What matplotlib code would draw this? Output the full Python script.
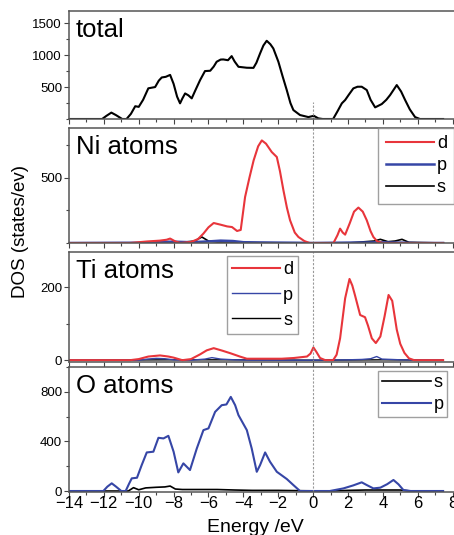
"""
Stacked density-of-states panels: total, Ni, Ti and O projected DOS.
"""

import matplotlib
matplotlib.use("Agg")
import matplotlib.pyplot as plt
from matplotlib.ticker import MultipleLocator

plt.rcParams["font.family"] = ["Liberation Sans", "DejaVu Sans"]

# ---------------------------------------------------------------------------
# DATA
# ---------------------------------------------------------------------------
E_total = [-14, -12.1, -11.85, -11.57, -11.3, -10.95, -10.7, -10.45, -10.2, -10.0,
           -9.75, -9.45, -9.06, -8.85, -8.68, -8.45, -8.2, -8.0, -7.8, -7.63,
           -7.5, -7.34, -7.15, -6.96, -6.75, -6.48, -6.2, -5.9, -5.7, -5.53,
           -5.3, -5.15, -4.88, -4.67, -4.5, -4.28, -3.8, -3.42, -3.25, -3.04,
           -2.85, -2.66, -2.45, -2.28, -1.99, -1.75, -1.51, -1.3, -1.13, -0.75,
           -0.27, 0.04, 0.3, 0.55, 1.15, 1.4, 1.65, 1.84, 2.05, 2.31,
           2.55, 2.79, 3.08, 3.3, 3.56, 3.94, 4.2, 4.42, 4.8, 5.05,
           5.28, 5.55, 5.85, 6.13, 7.46]
dos_total = [0, 0, 50, 100, 60, 0, 0, 80, 200, 190,
             300, 480, 500, 600, 650, 660, 690, 550, 350, 245,
             320, 400, 370, 323, 450, 609, 750, 755, 820, 896,
             930, 932, 920, 984, 900, 817, 802, 800, 880, 1026,
             1150, 1224, 1170, 1104, 896, 670, 453, 250, 140, 62,
             30, 50, 10, 0, 0, 120, 245, 297, 380, 479,
             505, 505, 453, 300, 182, 234, 300, 375, 531, 430,
             297, 150, 30, 0, 0]

E_ni_d = [-14, -10.5, -9.5, -8.8, -8.4, -8.2, -7.9, -7.6, -7.0, -6.6,
          -6.29, -6.0, -5.7, -5.3, -4.93, -4.65, -4.36, -4.15, -3.9, -3.65,
          -3.41, -3.15, -2.94, -2.7, -2.37, -2.08, -1.9, -1.7, -1.5, -1.32,
          -1.05, -0.84, -0.5, -0.2, 1.17, 1.4, 1.55, 1.7, 1.84, 2.1,
          2.35, 2.6, 2.85, 3.08, 3.3, 3.46, 3.7, 4.0, 7.46]
ni_d = [0, 0, 12, 18, 25, 34, 12, 0, 8, 30,
        72, 120, 153, 140, 127, 122, 92, 100, 352, 500,
        632, 740, 785, 760, 696, 658, 550, 403, 270, 174,
        80, 46, 15, 0, 0, 60, 110, 80, 64, 150,
        240, 271, 240, 174, 90, 46, 10, 0, 0]
E_ni_p = [-14, -10, -9, -8, -7, -6, -5.3, -4.6, -4, -3, -1, 0, 2, 4, 5, 6, 7.46]
ni_p = [0, 2, 8, 10, 6, 12, 18, 15, 6, 4, 2, 0, 3, 5, 3, 0, 0]
E_ni_s = [-14, -10, -8.5, -7.5, -6.8, -6.38, -6.0, -5.5, -4.5, -3.5,
          -1, 2.0, 3.0, 3.5, 3.86, 4.3, 4.7, 5.1, 5.5, 7.46]
ni_s = [0, 0, 5, 5, 15, 46, 15, 8, 8, 3,
        0, 0, 10, 15, 28, 10, 15, 28, 5, 0]

E_ti_d = [-14, -10.5, -10, -9.45, -8.78, -8.3, -8.0, -7.5, -7.0, -6.48,
          -6.1, -5.7, -5.2, -4.74, -4.2, -3.8, -2.7, -1.8, -1.1, -0.35,
          -0.15, 0.02, 0.2, 0.4, 0.7, 1.15, 1.35, 1.55, 1.84, 2.09,
          2.25, 2.4, 2.7, 2.98, 3.15, 3.37, 3.6, 3.86, 4.1, 4.33,
          4.54, 4.8, 5.0, 5.24, 5.5, 5.8, 7.46]
ti_d = [0, 0, 3, 10, 13, 10, 7, 0, 3, 16,
        27, 33, 26, 19, 10, 4, 4, 4, 6, 10,
        18, 35, 22, 6, 0, 0, 15, 60, 170, 223,
        205, 179, 124, 118, 95, 60, 47, 65, 120, 179,
        163, 84, 45, 20, 5, 0, 0]
E_ti_p = [-14, -10, -9.5, -9.0, -8.5, -8.0, -7, -6.2, -5.8, -5.3, -4.5,
          -3.5, -1, 0, 2.0, 2.8, 3.3, 3.65, 3.95, 4.5, 5.0, 7.46]
ti_p = [0, 0, 3, 5, 4, 1, 0, 3, 7, 3, 1,
        0, 0, 0, 1, 2, 4, 10, 3, 2, 1, 0]
E_ti_s = [-14, -8, -5, 0, 4, 7.46]
ti_s = [0, 1, 1, 0, 1, 0]

E_o_p = [-14, -12.03, -11.8, -11.55, -11.3, -11.0, -10.75, -10.55, -10.4, -10.1,
         -9.83, -9.54, -9.16, -8.87, -8.58, -8.3, -8.0, -7.73, -7.44, -7.06,
         -6.67, -6.29, -6.0, -5.62, -5.24, -4.97, -4.72, -4.47, -4.28, -3.8,
         -3.52, -3.23, -3.04, -2.75, -2.47, -2.08, -1.51, -1.13, -0.75, 0.96,
         1.74, 2.3, 2.79, 3.08, 3.46, 3.86, 4.25, 4.61, 4.9, 5.18,
         5.6, 7.46]
o_p = [0, 0, 35, 62, 35, 0, 0, 60, 102, 107,
       209, 311, 317, 429, 424, 445, 317, 150, 223, 169,
       343, 491, 505, 638, 692, 698, 759, 692, 612, 491,
       343, 155, 209, 311, 236, 155, 97, 48, 0, 0,
       21, 45, 70, 48, 21, 27, 55, 89, 54, 8,
       0, 0]
E_o_s = [-14, -10.6, -10.3, -10.0, -9.6, -9.0, -8.5, -8.2, -7.9, -7.5,
         -6.5, -5.5, -4.5, -3.5, -2, -0.5, 1, 2, 3, 4, 5, 5.6, 7.46]
o_s = [0, 0, 27, 10, 25, 30, 33, 40, 16, 12,
       12, 12, 8, 5, 5, 2, 0, 5, 8, 8, 8, 0, 0]

panel_names = ["total", "Ni atoms", "Ti atoms", "O atoms"]

RED = "#e8353b"
BLUE = "#3646a6"
BLACK = "black"

# ---------------------------------------------------------------------------
# LAYOUT: four stacked panels, right edge runs past the figure like the scan
# ---------------------------------------------------------------------------
W, H = 454, 535
fig = plt.figure(figsize=(W / 100, H / 100), dpi=100)

def add_panel(top, bottom):
    left = 69 / W
    width = 394 / W
    return fig.add_axes([left, 1 - bottom / H, width, (bottom - top) / H])

ax1 = add_panel(11, 119)
ax2 = add_panel(128, 243)
ax3 = add_panel(252, 362)
ax4 = add_panel(367, 492)
axes = [ax1, ax2, ax3, ax4]

lw = 1.5
ax1.plot(E_total, dos_total, color=BLACK, lw=lw)

ax2.plot(E_ni_s, ni_s, color=BLACK, lw=1.2)
ax2.plot(E_ni_p, ni_p, color=BLUE, lw=1.8)
ax2.plot(E_ni_d, ni_d, color=RED, lw=lw)

ax3.plot(E_ti_s, ti_s, color=BLACK, lw=1.0)
ax3.plot(E_ti_p, ti_p, color=BLUE, lw=1.0)
ax3.plot(E_ti_d, ti_d, color=RED, lw=lw)

ax4.plot(E_o_s, o_s, color=BLACK, lw=1.2)
ax4.plot(E_o_p, o_p, color=BLUE, lw=lw)

ax1.set_ylim(0, 1690)
ax2.set_ylim(0, 880)
ax3.set_ylim(-5, 297)
ax4.set_ylim(-8, 1000)

ax1.set_yticks([500, 1000, 1500])
ax1.yaxis.set_minor_locator(MultipleLocator(250))
ax2.set_yticks([500])
ax2.yaxis.set_minor_locator(MultipleLocator(250))
ax3.set_yticks([0, 200])
ax3.yaxis.set_minor_locator(MultipleLocator(100))
ax4.set_yticks([0, 400, 800])
ax4.yaxis.set_minor_locator(MultipleLocator(200))

for ax, name in zip(axes, panel_names):
    ax.set_xlim(-14, 8.6)
    ax.xaxis.set_major_locator(MultipleLocator(2))
    ax.xaxis.set_minor_locator(MultipleLocator(1))
    ax.tick_params(which="both", direction="out", color="#444444", width=0.8)
    ax.tick_params(which="major", length=3.5)
    ax.tick_params(which="minor", length=2.5)
    ax.tick_params(axis="y", labelsize=9.5, pad=1.5)
    for sp in ax.spines.values():
        sp.set_color("#555555")
        sp.set_linewidth(1.1)
    ax.annotate(name, xy=(0, 1), xycoords="axes fraction",
                xytext=(5, -5), textcoords="offset points",
                fontsize=18.5, ha="left", va="top")
    if ax is not ax4:
        ax.tick_params(axis="x", labelbottom=False)

ax4.tick_params(axis="x", labelsize=12, pad=-0.5)

# Fermi level marker
ax1.axvline(0, ymax=0.16, color="#999999", lw=0.8, ls=(0, (2, 1.5)))
for ax in axes[1:]:
    ax.axvline(0, color="#999999", lw=0.8, ls=(0, (2, 1.5)))

leg_kw = dict(fontsize=13, frameon=True, fancybox=False, edgecolor="#888888",
              handlelength=2.7, handletextpad=0.15, borderaxespad=0.0,
              borderpad=0.4, labelspacing=0.28)
h = ax2.get_lines()
leg = ax2.legend([h[2], h[1], h[0]], ["d", "p", "s"], loc="upper left",
                 bbox_to_anchor=(0.785, 1.0), **leg_kw)
leg.get_frame().set_linewidth(1.0)

h = ax3.get_lines()
leg = ax3.legend([h[2], h[1], h[0]], ["d", "p", "s"], loc="upper left",
                 bbox_to_anchor=(0.4, 0.96),
                 **{**leg_kw, "labelspacing": 0.45, "borderpad": 0.28})
leg.get_frame().set_linewidth(1.0)

h = ax4.get_lines()
leg = ax4.legend([h[0], h[1]], ["s", "p"], loc="upper left",
                 bbox_to_anchor=(0.785, 0.97), **{**leg_kw, "borderpad": 0.2})
leg.get_frame().set_linewidth(1.0)

fig.text(21 / W, 1 - 232 / H, "DOS (states/ev)", rotation=90, fontsize=13.5,
         ha="center", va="center")
fig.text(255 / W, 1 - 528 / H, "Energy /eV", fontsize=14,
         ha="center", va="center")

fig.savefig("out.png", dpi=100)
